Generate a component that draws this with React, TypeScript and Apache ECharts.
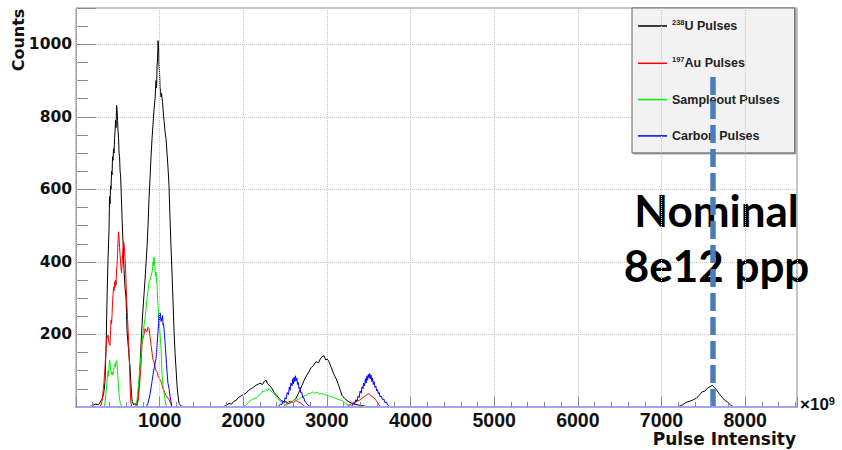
import React, { useEffect, useRef } from "react";
import * as echarts from "echarts";

const seriesNames = ["238U Pulses", "197Au Pulses", "Sampleout Pulses", "Carbon Pulses"];
const seriesColors = ["#000000", "#ff0000", "#00ee00", "#0000ff"];
const legendRich: Record<string, string> = {
  "238U Pulses": "{sup|238}{t|U Pulses}",
  "197Au Pulses": "{sup|197}{t|Au Pulses}",
  "Sampleout Pulses": "{t|Sampleout Pulses}",
  "Carbon Pulses": "{t|Carbon Pulses}",
};

const xTickLabels = [1000, 2000, 3000, 4000, 5000, 6000, 7000, 8000];
const yTickLabels = [200, 400, 600, 800, 1000];

const uPulses: [number, number][] = [
  [0, 0], [150, 0], [190, 3], [230, 8], [270, 6], [311, 22], [330, 35], [347, 70], [360, 170], [371, 300],
  [383, 410], [395, 490], [401, 580], [407, 560], [413, 610], [419, 600], [425, 650], [431, 640], [437, 690],
  [443, 680], [449, 712], [455, 700], [461, 740], [467, 760], [473, 790], [479, 770], [485, 832], [491, 820],
  [497, 790], [503, 760], [509, 740], [515, 700], [521, 690], [527, 650], [533, 640], [539, 600], [545, 560],
  [551, 520], [557, 483], [565, 440], [574, 380], [586, 330], [598, 300], [604, 260], [610, 210], [620, 180],
  [628, 160], [637, 130], [646, 110], [655, 70], [664, 35], [672, 15], [690, 6], [705, 10], [720, 4], [735, 12],
  [753, 60], [765, 110], [777, 170], [789, 225], [801, 270], [813, 310], [825, 350], [837, 395], [849, 440],
  [861, 500], [873, 575], [885, 630], [897, 690], [909, 740], [921, 780], [933, 820], [945, 850], [957, 900],
  [963, 880], [969, 940], [975, 960], [981, 1010], [987, 990], [993, 940], [999, 920], [1005, 880], [1011, 870],
  [1017, 855], [1023, 865], [1029, 850], [1035, 840], [1041, 820], [1047, 800], [1053, 790], [1064, 760],
  [1076, 740], [1088, 700], [1100, 660], [1112, 610], [1124, 520], [1136, 440], [1148, 370], [1160, 290],
  [1172, 210], [1184, 150], [1196, 105], [1208, 60], [1220, 30], [1232, 10], [1250, 4], [1290, 0],
  [1750, 0], [1794, 4], [1830, 10], [1860, 8], [1890, 16], [1914, 18], [1940, 26], [1970, 30], [2000, 34],
  [2033, 38], [2060, 45], [2090, 50], [2120, 54], [2153, 60], [2180, 63], [2200, 66], [2230, 62], [2249, 70],
  [2273, 74], [2290, 64], [2310, 60], [2330, 55], [2345, 50], [2370, 40], [2400, 32], [2428, 24], [2450, 18],
  [2480, 15], [2512, 14], [2540, 10], [2570, 12], [2600, 18], [2631, 24], [2660, 38], [2680, 48], [2703, 60],
  [2730, 75], [2760, 88], [2787, 98], [2810, 108], [2840, 115], [2870, 125], [2900, 122], [2920, 132],
  [2942, 139], [2966, 141], [2985, 130], [3005, 132], [3026, 124], [3050, 110], [3080, 92], [3110, 78],
  [3140, 60], [3160, 46], [3181, 32], [3210, 24], [3240, 18], [3265, 14], [3300, 10], [3340, 7], [3385, 5],
  [3440, 3], [3500, 0],
  [7180, 0], [7220, 3], [7250, 6], [7296, 13], [7340, 16], [7380, 20], [7416, 24], [7450, 32], [7488, 42],
  [7520, 44], [7550, 52], [7580, 56], [7608, 60], [7630, 54], [7656, 48], [7691, 36], [7727, 26], [7760, 18],
  [7790, 14], [7811, 8], [7840, 3], [7870, 0],
];

const auPulses: [number, number][] = [
  [290, 0], [310, 15], [325, 45], [335, 70], [347, 110], [359, 160], [371, 190], [383, 198], [395, 175],
  [407, 170], [413, 210], [419, 240], [425, 230], [431, 253], [437, 290], [443, 310], [449, 330], [455, 320],
  [461, 345], [467, 330], [473, 350], [479, 336], [485, 380], [491, 391], [497, 420], [503, 460], [509, 483],
  [515, 470], [521, 440], [527, 420], [533, 400], [539, 380], [545, 370], [551, 391], [557, 420], [563, 440],
  [569, 456], [575, 450], [581, 430], [587, 410], [593, 380], [599, 340], [605, 300], [617, 240], [629, 180],
  [640, 115], [648, 50], [656, 15], [666, 0],
  [725, 0], [745, 20], [760, 60], [777, 115], [789, 170], [801, 190], [813, 200], [825, 216], [837, 210],
  [849, 207], [861, 220], [873, 216], [885, 195], [897, 170], [909, 150], [921, 130], [933, 124], [945, 110],
  [957, 100], [969, 97], [981, 85], [993, 80], [1005, 75], [1017, 70], [1029, 60], [1040, 50], [1052, 46],
  [1064, 38], [1076, 32], [1088, 28], [1100, 24], [1112, 22], [1130, 10], [1150, 0],
  [2480, 0], [2510, 8], [2540, 14], [2570, 16], [2600, 12], [2630, 18], [2660, 14], [2690, 10], [2720, 4],
  [2750, 0],
  [3230, 0], [3265, 5], [3300, 10], [3340, 14], [3385, 18], [3420, 24], [3450, 30], [3469, 32], [3490, 36],
  [3504, 37], [3530, 30], [3560, 26], [3588, 18], [3610, 10], [3630, 3], [3660, 0],
];

const sampleoutPulses: [number, number][] = [
  [340, 0], [355, 30], [371, 70], [383, 100], [389, 85], [395, 110], [401, 130], [407, 124], [413, 105],
  [419, 97], [425, 90], [431, 97], [437, 88], [443, 90], [449, 100], [455, 110], [461, 115], [467, 120],
  [473, 110], [479, 124], [485, 128], [490, 124], [496, 100], [502, 78], [508, 55], [514, 40], [520, 23],
  [530, 10], [550, 0],
  [710, 0], [730, 20], [742, 50], [753, 78], [765, 110], [777, 140], [789, 179], [801, 200], [813, 225],
  [825, 244], [837, 270], [849, 300], [861, 320], [873, 345], [885, 350], [897, 360], [909, 372], [915, 380],
  [921, 400], [927, 390], [933, 413], [939, 400], [945, 380], [951, 360], [957, 372], [963, 350], [969, 336],
  [975, 300], [981, 280], [987, 250], [993, 244], [1005, 200], [1017, 161], [1029, 87], [1040, 60],
  [1052, 41], [1064, 20], [1076, 5], [1090, 0],
  [2000, 0], [2033, 5], [2060, 12], [2090, 18], [2120, 22], [2153, 25], [2180, 30], [2210, 36], [2230, 44],
  [2249, 42], [2270, 48], [2290, 45], [2309, 51], [2330, 44], [2350, 40], [2368, 37], [2390, 30], [2410, 24],
  [2428, 18], [2450, 14], [2480, 10], [2512, 5], [2540, 8], [2570, 12], [2600, 18], [2631, 23], [2660, 20],
  [2690, 26], [2720, 30], [2751, 32], [2780, 38], [2800, 36], [2823, 42], [2850, 38], [2880, 40], [2910, 36],
  [2942, 37], [2970, 34], [3000, 32], [3030, 30], [3062, 28], [3090, 26], [3120, 22], [3150, 20], [3181, 18],
  [3210, 12], [3240, 8], [3265, 5], [3300, 0],
];

const carbonPulses: [number, number][] = [
  [840, 0], [860, 10], [885, 35], [909, 70], [921, 90], [933, 105], [945, 120], [957, 133], [963, 150],
  [969, 170], [975, 190], [981, 207], [987, 230], [993, 253], [999, 240], [1005, 260], [1011, 250],
  [1017, 236], [1023, 244], [1029, 240], [1035, 252], [1041, 226], [1047, 230], [1052, 215], [1058, 200],
  [1064, 180], [1070, 161], [1076, 140], [1082, 120], [1088, 97], [1094, 80], [1100, 65], [1112, 51],
  [1124, 30], [1136, 15], [1148, 0],
  [2400, 0], [2428, 3], [2445, 8], [2460, 6], [2475, 16], [2490, 12], [2500, 26], [2512, 22], [2525, 40],
  [2540, 34], [2550, 55], [2560, 46], [2570, 66], [2584, 58], [2592, 78], [2600, 64], [2608, 82], [2615, 70],
  [2623, 86], [2631, 72], [2640, 80], [2648, 62], [2657, 68], [2667, 50], [2677, 54], [2690, 38], [2700, 40],
  [2710, 26], [2720, 28], [2735, 16], [2750, 12], [2770, 6], [2787, 3], [2810, 0],
  [3270, 0], [3301, 3], [3315, 10], [3330, 8], [3345, 20], [3360, 16], [3372, 30], [3385, 26], [3397, 44],
  [3410, 38], [3420, 56], [3430, 50], [3440, 66], [3450, 58], [3460, 78], [3469, 66], [3478, 86], [3487, 74],
  [3495, 90], [3505, 80], [3512, 92], [3520, 78], [3528, 88], [3537, 70], [3545, 80], [3555, 62], [3564, 70],
  [3575, 54], [3585, 58], [3595, 44], [3605, 48], [3615, 36], [3624, 40], [3635, 28], [3650, 30], [3665, 20],
  [3680, 22], [3695, 12], [3710, 14], [3725, 6], [3740, 3], [3760, 0],
];

const seriesData = [uPulses, auPulses, sampleoutPulses, carbonPulses];

const nominalX = 7610;
const nominalTop = 925;
const xMax = 8620;
const yMax = 1100;

export default function App() {
  const ref = useRef<HTMLDivElement>(null);
  useEffect(() => {
    if (!ref.current) return;
    const chart = echarts.init(ref.current, null, { renderer: "svg" });
    const series: any[] = seriesNames.map((name, i) => ({
      name,
      type: "line",
      data: seriesData[i],
      color: seriesColors[i],
      symbol: "none",
      showSymbol: false,
      lineStyle: { color: seriesColors[i], width: 1 },
      emphasis: { disabled: true },
      z: 2 + i * 0.1,
    }));
    series[3].markLine = {
      silent: true,
      symbol: "none",
      label: { show: false },
      lineStyle: { color: "#4a7ebb", width: 5.5, type: [18, 6] },
      data: [[{ coord: [nominalX, 0] }, { coord: [nominalX, nominalTop] }]],
      z: 6,
    };
    chart.setOption({
      animation: false,
      backgroundColor: "#ffffff",
      grid: {
        left: 76,
        right: 45,
        top: 8,
        bottom: 43,
        show: true,
        borderColor: "#8a8a8a",
        borderWidth: 1,
        backgroundColor: "transparent",
      },
      legend: {
        orient: "vertical",
        left: 632,
        top: 8,
        icon: "rect",
        itemWidth: 29,
        itemHeight: 1.5,
        itemGap: 23.3,
        padding: [10.5, 15, 10.5, 6],
        backgroundColor: "#f2f2f2",
        borderColor: "#666666",
        borderWidth: 1,
        shadowColor: "#999999",
        shadowOffsetX: 1,
        shadowOffsetY: 1,
        shadowBlur: 0,
        selectedMode: false,
        data: seriesNames,
        formatter: (name: string) => legendRich[name] || name,
        textStyle: {
          fontFamily: "Liberation Sans",
          fontWeight: "bold",
          fontSize: 12.5,
          color: "#222222",
          rich: {
            t: { fontFamily: "Liberation Sans", fontWeight: "bold", fontSize: 12.5, color: "#222222", lineHeight: 15 },
            sup: { fontFamily: "Liberation Sans", fontWeight: "bold", fontSize: 7.5, color: "#222222", lineHeight: 8, verticalAlign: "top" },
          },
        },
      },
      xAxis: {
        type: "value",
        min: 0,
        max: xMax,
        interval: 1000,
        z: 10,
        axisLine: { show: true, lineStyle: { color: "#a4a4f4", width: 2 } },
        axisTick: { show: true, inside: true, length: 10, lineStyle: { color: "#8a8a8a" } },
        minorTick: { show: true, splitNumber: 5, length: 5, lineStyle: { color: "#8a8a8a" } },
        splitLine: { show: true, lineStyle: { color: "#c4c4c4", type: "dotted", width: 1 } },
        axisLabel: {
          margin: 5,
          fontFamily: "Liberation Sans",
          fontWeight: "bold",
          fontSize: 19.5,
          lineHeight: 15,
          color: "#111111",
          showMaxLabel: false,
          formatter: (v: number) => (xTickLabels.indexOf(v) >= 0 ? String(v) : ""),
        },
      },
      yAxis: {
        type: "value",
        min: 0,
        max: yMax,
        interval: 200,
        axisLine: { show: true, lineStyle: { color: "#8a8a8a", width: 1 } },
        axisTick: { show: true, inside: true, length: 20, lineStyle: { color: "#8a8a8a" } },
        minorTick: { show: true, splitNumber: 4, length: 12, lineStyle: { color: "#8a8a8a" } },
        splitLine: { show: true, lineStyle: { color: "#c4c4c4", type: "dotted", width: 1 } },
        axisLabel: {
          margin: 4,
          fontFamily: "DejaVu Sans",
          fontWeight: "bold",
          fontSize: 15.5,
          color: "#111111",
          showMaxLabel: false,
          formatter: (v: number) => (yTickLabels.indexOf(v) >= 0 ? String(v) : ""),
        },
      },
      graphic: [
        {
          type: "text",
          x: 18.5,
          y: 40,
          rotation: Math.PI / 2,
          style: {
            text: "Counts",
            fontFamily: "DejaVu Sans",
            fontWeight: "bold",
            fontSize: 16,
            fill: "#111111",
            align: "center",
            verticalAlign: "middle",
          },
        },
        {
          type: "text",
          x: 796,
          y: 439,
          style: {
            text: "Pulse Intensity",
            fontFamily: "DejaVu Sans",
            fontWeight: "bold",
            fontSize: 17,
            lineHeight: 14,
            fill: "#111111",
            align: "right",
            verticalAlign: "middle",
          },
        },
        {
          type: "text",
          x: 800,
          y: 404,
          style: {
            text: "×10{sup|9}",
            fontFamily: "Liberation Sans",
            fontWeight: "bold",
            fontSize: 17,
            fill: "#111111",
            align: "left",
            verticalAlign: "middle",
            rich: {
              sup: { fontFamily: "Liberation Sans", fontWeight: "bold", fontSize: 11, fill: "#111111", verticalAlign: "top", lineHeight: 9 },
            },
          },
        },
        {
          type: "text",
          x: 716.5,
          y: 210,
          z: 3,
          style: {
            text: "Nominal",
            fontFamily: "Lato",
            fontWeight: "bold",
            fontSize: 44,
            fill: "#000000",
            align: "center",
            verticalAlign: "middle",
          },
        },
        {
          type: "text",
          x: 716.5,
          y: 265,
          z: 3,
          style: {
            text: "8e12 ppp",
            fontFamily: "Lato",
            fontWeight: "bold",
            fontSize: 44,
            fill: "#000000",
            align: "center",
            verticalAlign: "middle",
          },
        },
      ],
      series,
    });
    return () => chart.dispose();
  }, []);
  return (
    <div
      ref={ref}
      style={{ position: "fixed", left: 0, top: 0, width: 842, height: 450, background: "#ffffff" }}
    />
  );
}
